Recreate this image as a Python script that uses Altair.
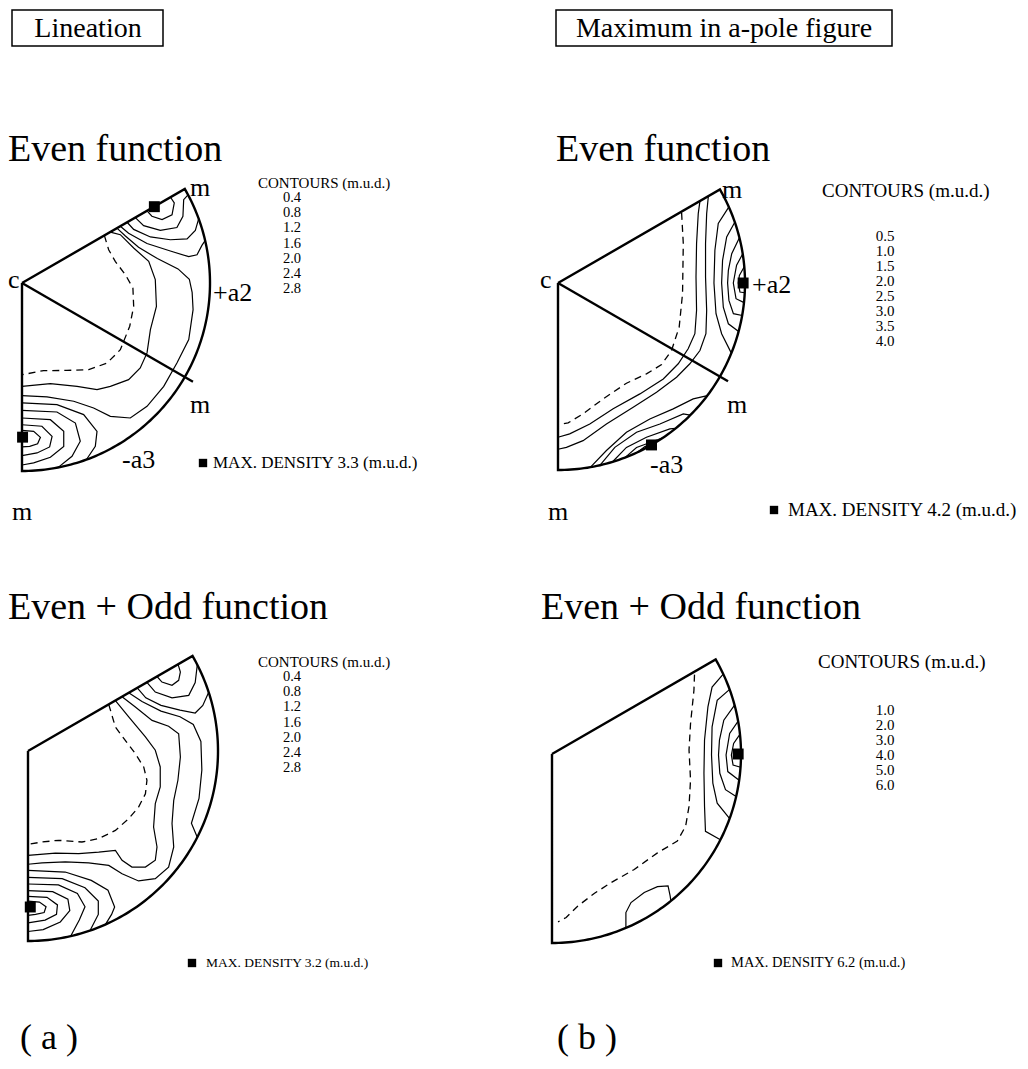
import altair as alt
import numpy as np
import pandas as pd

# ---------------- values ----------------
header_boxes = ["Lineation", "Maximum in a-pole figure"]
panel_titles = ["Even function", "Even function", "Even + Odd function", "Even + Odd function"]
column_tags = ["( a )", "( b )"]
levels_a_even = ["0.4", "0.8", "1.2", "1.6", "2.0", "2.4", "2.8"]
levels_b_even = ["0.5", "1.0", "1.5", "2.0", "2.5", "3.0", "3.5", "4.0"]
levels_a_odd = ["0.4", "0.8", "1.2", "1.6", "2.0", "2.4", "2.8"]
levels_b_odd = ["1.0", "2.0", "3.0", "4.0", "5.0", "6.0"]
max_density = ["3.3", "4.2", "3.2", "6.2"]

# contour lines in projection units (c = origin, primitive circle radius = 1)
a_even_dashed = [
    [(0.438, 0.253), (0.461, 0.177), (0.496, 0.115), (0.550, 0.044), (0.590, -0.027), (0.594, -0.124),
     (0.573, -0.230), (0.523, -0.355), (0.452, -0.426), (0.355, -0.461), (0.239, -0.465), (0.115, -0.466),
     (0.0, -0.488)],
]
a_even_solid = [
    [(0.47, 0.271), (0.523, 0.257), (0.594, 0.186), (0.674, 0.115), (0.709, 0.018), (0.715, -0.124),
     (0.683, -0.248), (0.665, -0.372), (0.629, -0.452), (0.567, -0.514), (0.470, -0.550), (0.399, -0.567),
     (0.293, -0.550), (0.151, -0.535), (0.0, -0.550)],
    [(0.505, 0.292), (0.55, 0.25), (0.62, 0.19), (0.72, 0.13), (0.83, 0.075), (0.89, 0.02), (0.905, -0.05),
     (0.91, -0.142), (0.887, -0.301), (0.824, -0.426), (0.754, -0.55), (0.665, -0.656), (0.576, -0.718),
     (0.47, -0.709), (0.381, -0.665), (0.275, -0.629), (0.133, -0.606), (0.0, -0.599)],
    [(0.523, 0.302), (0.567, 0.265), (0.665, 0.21), (0.789, 0.17), (0.887, 0.14), (0.931, 0.15),
     (0.957, 0.2), (0.974, 0.225)],
    [(0.559, 0.323), (0.594, 0.285), (0.683, 0.245), (0.789, 0.23), (0.878, 0.235), (0.922, 0.28),
     (0.940, 0.342)],
    [(0.603, 0.348), (0.647, 0.305), (0.736, 0.28), (0.824, 0.295), (0.856, 0.355), (0.86, 0.443),
     (0.883, 0.469)],
    [(0.665, 0.384), (0.691, 0.355), (0.745, 0.337), (0.798, 0.363), (0.810, 0.426), (0.79, 0.456)],
    [(0.0, -0.638), (0.186, -0.647), (0.328, -0.70), (0.399, -0.789), (0.39, -0.869), (0.342, -0.940)],
    [(0.0, -0.677), (0.186, -0.686), (0.284, -0.745), (0.31, -0.842), (0.266, -0.922), (0.191, -0.982)],
    [(0.0, -0.718), (0.151, -0.727), (0.222, -0.789), (0.222, -0.869), (0.151, -0.927), (0.062, -0.957),
     (0.0, -0.968)],
    [(0.0, -0.754), (0.106, -0.762), (0.16, -0.816), (0.147, -0.872), (0.08, -0.904), (0.0, -0.918)],
    [(0.0, -0.784), (0.062, -0.789), (0.098, -0.821), (0.083, -0.855), (0.041, -0.869), (0.0, -0.872)],
]
a_even_max = [(0.704, 0.406), (0.003, -0.82)]

b_even_dashed = [
    [(0.661, 0.375), (0.670, 0.211), (0.666, -0.057), (0.648, -0.236), (0.607, -0.361), (0.554, -0.436),
     (0.473, -0.486), (0.366, -0.536), (0.241, -0.620), (0.134, -0.700), (0.054, -0.748), (0.0, -0.757)],
]
b_even_solid = [
    [(0.759, 0.438), (0.75, 0.371), (0.741, 0.211), (0.738, 0.032), (0.741, -0.146), (0.732, -0.271),
     (0.696, -0.352), (0.643, -0.432), (0.563, -0.513), (0.438, -0.593), (0.295, -0.673), (0.170, -0.754),
     (0.0625, -0.807), (0.0, -0.825)],
    [(0.804, 0.464), (0.795, 0.371), (0.789, 0.211), (0.789, 0.032), (0.795, -0.146), (0.791, -0.271),
     (0.759, -0.361), (0.705, -0.432), (0.634, -0.504), (0.527, -0.584), (0.402, -0.664), (0.259, -0.754),
     (0.134, -0.843), (0.045, -0.879), (0.0, -0.889)],
    [(0.914, 0.407), (0.857, 0.318), (0.839, 0.175), (0.834, 0.0), (0.845, -0.164), (0.875, -0.271),
     (0.927, -0.375)],
    [(0.946, 0.326), (0.902, 0.246), (0.880, 0.121), (0.875, 0.0), (0.884, -0.129), (0.911, -0.218),
     (0.966, -0.259)],
    [(0.970, 0.242), (0.929, 0.157), (0.911, 0.068), (0.907, 0.0), (0.914, -0.093), (0.938, -0.164),
     (0.985, -0.174)],
    [(0.988, 0.156), (0.955, 0.095), (0.9375, 0.0), (0.952, -0.084), (0.995, -0.105)],
    [(0.996, 0.087), (0.970, 0.041), (0.964, 0.0), (0.973, -0.048), (0.999, -0.052)],
    [(0.174, -0.985), (0.259, -0.896), (0.366, -0.798), (0.491, -0.727), (0.616, -0.673), (0.723, -0.620),
     (0.799, -0.602)],
    [(0.225, -0.974), (0.304, -0.879), (0.420, -0.798), (0.545, -0.754), (0.670, -0.700), (0.707, -0.707)],
    [(0.292, -0.956), (0.366, -0.879), (0.473, -0.825), (0.598, -0.780), (0.629, -0.777)],
    [(0.358, -0.934), (0.42, -0.88), (0.50, -0.85), (0.56, -0.828)],
    [(0.423, -0.906), (0.465, -0.875), (0.52, -0.852)],
]
b_even_max = [(0.99, 0.0), (0.5, -0.866)]

a_odd_dashed = [
    [(0.425, 0.245), (0.460, 0.126), (0.512, 0.056), (0.565, -0.014), (0.609, -0.084), (0.626, -0.154),
     (0.618, -0.225), (0.582, -0.295), (0.530, -0.356), (0.460, -0.418), (0.372, -0.461), (0.284, -0.479),
     (0.161, -0.470), (0.074, -0.479), (0.0, -0.491)],
]
a_odd_solid = [
    [(0.46, 0.265), (0.530, 0.179), (0.618, 0.074), (0.670, 0.004), (0.696, -0.084), (0.696, -0.189),
     (0.670, -0.277), (0.661, -0.400), (0.679, -0.505), (0.670, -0.575), (0.618, -0.611), (0.547, -0.611),
     (0.495, -0.575), (0.460, -0.523), (0.372, -0.532), (0.267, -0.540), (0.144, -0.537), (0.0, -0.549)],
    [(0.495, 0.286), (0.565, 0.232), (0.653, 0.161), (0.740, 0.130), (0.793, 0.091), (0.802, -0.032),
     (0.789, -0.154), (0.767, -0.260), (0.758, -0.382), (0.767, -0.505), (0.740, -0.611), (0.670, -0.672),
     (0.582, -0.684), (0.495, -0.646), (0.425, -0.602), (0.319, -0.589), (0.196, -0.584), (0.074, -0.589),
     (0.0, -0.596)],
    [(0.53, 0.306), (0.6, 0.26), (0.7, 0.21), (0.8, 0.18), (0.87, 0.14), (0.91, 0.05), (0.915, -0.1),
     (0.9, -0.25), (0.86, -0.38), (0.891, -0.454)],
    [(0.575, 0.332), (0.62, 0.28), (0.70, 0.24), (0.80, 0.215), (0.88, 0.2), (0.92, 0.24), (0.951, 0.309)],
    [(0.626, 0.361), (0.67, 0.31), (0.758, 0.28), (0.846, 0.293), (0.88, 0.36), (0.891, 0.454)],
    [(0.679, 0.392), (0.705, 0.363), (0.758, 0.346), (0.793, 0.372), (0.802, 0.416), (0.79, 0.456)],
    [(0.0, -0.628), (0.196, -0.637), (0.333, -0.681), (0.421, -0.733), (0.456, -0.821), (0.44, -0.86),
     (0.407, -0.914)],
    [(0.0, -0.665), (0.18, -0.672), (0.30, -0.72), (0.37, -0.79), (0.37, -0.86), (0.326, -0.946)],
    [(0.0, -0.70), (0.16, -0.705), (0.26, -0.75), (0.30, -0.82), (0.27, -0.89), (0.225, -0.974)],
    [(0.0, -0.735), (0.13, -0.74), (0.21, -0.78), (0.22, -0.84), (0.17, -0.90), (0.08, -0.94), (0.0, -0.95)],
    [(0.0, -0.765), (0.10, -0.77), (0.155, -0.81), (0.15, -0.86), (0.09, -0.89), (0.0, -0.905)],
    [(0.0, -0.79), (0.06, -0.795), (0.095, -0.82), (0.085, -0.85), (0.04, -0.86), (0.0, -0.865)],
]
a_odd_max = [(0.012, -0.821)]

b_odd_dashed = [
    [(0.754, 0.42), (0.751, 0.337), (0.733, 0.161), (0.725, 0.021), (0.733, -0.137), (0.725, -0.277),
     (0.707, -0.382), (0.663, -0.461), (0.558, -0.523), (0.435, -0.611), (0.312, -0.681), (0.225, -0.737),
     (0.137, -0.804), (0.075, -0.865), (0.032, -0.888)],
]
b_odd_solid = [
    [(0.906, 0.423), (0.847, 0.354), (0.825, 0.249), (0.807, 0.074), (0.804, -0.102), (0.807, -0.277),
     (0.812, -0.409), (0.891, -0.454)],
    [(0.940, 0.342), (0.874, 0.284), (0.847, 0.144), (0.844, -0.005), (0.851, -0.154), (0.874, -0.260),
     (0.940, -0.342)],
    [(0.966, 0.259), (0.909, 0.179), (0.886, 0.074), (0.881, -0.005), (0.888, -0.102), (0.918, -0.189),
     (0.974, -0.225)],
    [(0.985, 0.174), (0.940, 0.109), (0.921, -0.005), (0.930, -0.093), (0.990, -0.139)],
    [(0.995, 0.105), (0.961, 0.056), (0.949, -0.005), (0.958, -0.058), (0.998, -0.070)],
    [(0.391, -0.921), (0.391, -0.839), (0.418, -0.786), (0.488, -0.733), (0.558, -0.702), (0.614, -0.698),
     (0.625, -0.751), (0.629, -0.777)],
]
b_odd_max = [(0.985, 0.0)]

# ---------------- layout (page pixels) ----------------
GEOM = {  # centre c (x, y) and radius of the primitive circle
    "a_even": (22, 283, 188),
    "b_even": (558, 283, 187),
    "a_odd": (28, 751, 190),
    "b_odd": (552, 754, 189),
}
PANEL_DATA = {
    "a_even": (a_even_solid, a_even_dashed, a_even_max, True),
    "b_even": (b_even_solid, b_even_dashed, b_even_max, True),
    "a_odd": (a_odd_solid, a_odd_dashed, a_odd_max, False),
    "b_odd": (b_odd_solid, b_odd_dashed, b_odd_max, False),
}
FONT = "Liberation Serif"

line_rows, frame_rows, sq_rows = [], [], []
for p, (solid, dashed, mx, radial) in PANEL_DATA.items():
    cx, cy, R = GEOM[p]
    for kind, group in (("s", solid), ("d", dashed)):
        for k, ln in enumerate(group):
            for i, (u, v) in enumerate(ln):
                line_rows.append(dict(id=f"{p}-{kind}{k}", i=i, px=cx + u * R, py=cy - v * R, dashed=kind == "d"))
    pts = [(0.0, 0.0)] + [(np.cos(np.radians(t)), np.sin(np.radians(t))) for t in np.linspace(-90, 30, 121)] + [(0.0, 0.0)]
    for i, (u, v) in enumerate(pts):
        frame_rows.append(dict(id=f"{p}-frame", i=i, px=cx + u * R, py=cy - v * R))
    if radial:
        for i, (u, v) in enumerate([(0.0, 0.0), (np.cos(np.radians(-30)) * 1.05, np.sin(np.radians(-30)) * 1.05)]):
            frame_rows.append(dict(id=f"{p}-radial", i=i, px=cx + u * R, py=cy - v * R))
    for (u, v) in mx:
        sq_rows.append(dict(px=cx + u * R, py=cy - v * R, s=120))

lines_df = pd.DataFrame(line_rows)
frame_df = pd.DataFrame(frame_rows)

# legend squares
for (x, y) in [(203, 463), (774, 510), (192, 963), (718, 963)]:
    sq_rows.append(dict(px=x, py=y, s=70))
sq_df = pd.DataFrame(sq_rows)

left_txt = [
    (panel_titles[0], 8, 150, 38), (panel_titles[1], 556, 150, 38),
    (panel_titles[2], 8, 608, 38), (panel_titles[3], 541, 608, 38),
    (column_tags[0], 20, 1038, 36), (column_tags[1], 557, 1038, 36),
    ("c", 8, 280, 26), ("m", 190, 188, 26), ("+a2", 213, 293, 26), ("m", 190, 405, 26),
    ("-a3", 122, 460, 26), ("m", 12, 512, 26),
    ("c", 540, 280, 26), ("m", 722, 190, 26), ("+a2", 752, 285, 26), ("m", 727, 405, 26),
    ("-a3", 650, 465, 26), ("m", 548, 512, 26),
    ("CONTOURS (m.u.d.)", 258, 183, 15), ("CONTOURS (m.u.d.)", 822, 191, 19),
    ("CONTOURS (m.u.d.)", 258, 662, 15), ("CONTOURS (m.u.d.)", 818, 662, 19),
    (f"MAX. DENSITY {max_density[0]} (m.u.d.)", 213, 463, 17),
    (f"MAX. DENSITY {max_density[1]} (m.u.d.)", 788, 510, 19),
    (f"MAX. DENSITY {max_density[2]} (m.u.d.)", 206, 963, 13.5),
    (f"MAX. DENSITY {max_density[3]} (m.u.d.)", 731, 963, 14.5),
]
center_txt = [(header_boxes[0], 88, 29, 28), (header_boxes[1], 724, 29, 28)]
for k, t in enumerate(levels_a_even):
    center_txt.append((t, 292, 198 + 15.2 * k, 14.5))
for k, t in enumerate(levels_b_even):
    center_txt.append((t, 885, 236 + 15 * k, 15))
for k, t in enumerate(levels_a_odd):
    center_txt.append((t, 292, 677 + 15.2 * k, 14.5))
for k, t in enumerate(levels_b_odd):
    center_txt.append((t, 885, 710 + 15 * k, 15))

left_df = pd.DataFrame(left_txt, columns=["t", "px", "py", "fs"])
center_df = pd.DataFrame(center_txt, columns=["t", "px", "py", "fs"])
box_df = pd.DataFrame({"x": [12, 556], "x2": [163, 892], "y": [10, 10], "y2": [46, 46]})

XS = alt.Scale(domain=[8, 1020], nice=False, zero=False)
YS = alt.Scale(domain=[8, 1061], nice=False, zero=False, reverse=True)
X = alt.X("px:Q", scale=XS, axis=None)
Y = alt.Y("py:Q", scale=YS, axis=None)

frame = alt.Chart(frame_df).mark_line(color="black", strokeWidth=2.4, strokeJoin="miter").encode(
    x=X, y=Y, detail="id:N", order="i:Q")
solid = alt.Chart(lines_df[~lines_df.dashed]).mark_line(color="black", strokeWidth=1.2).encode(
    x=X, y=Y, detail="id:N", order="i:Q")
dash = alt.Chart(lines_df[lines_df.dashed]).mark_line(color="black", strokeWidth=1.3, strokeDash=[7, 5]).encode(
    x=X, y=Y, detail="id:N", order="i:Q")
squares = alt.Chart(sq_df).mark_square(color="black", opacity=1, filled=True).encode(
    x=X, y=Y, size=alt.Size("s:Q", scale=None, legend=None))
boxes = alt.Chart(box_df).mark_rect(fillOpacity=0, stroke="black", strokeWidth=1.5).encode(
    x=alt.X("x:Q", scale=XS, axis=None), x2="x2:Q",
    y=alt.Y("y:Q", scale=YS, axis=None), y2="y2:Q")
ltext = alt.Chart(left_df).mark_text(align="left", baseline="middle", font=FONT, color="black").encode(
    x=X, y=Y, text="t:N", size=alt.Size("fs:Q", scale=None, legend=None))
ctext = alt.Chart(center_df).mark_text(align="center", baseline="middle", font=FONT, color="black").encode(
    x=X, y=Y, text="t:N", size=alt.Size("fs:Q", scale=None, legend=None))

chart = alt.layer(boxes, solid, dash, frame, squares, ltext, ctext).properties(
    width=1012, height=1053, padding=0, autosize=alt.AutoSizeParams(type="none")
).configure_view(stroke=None).resolve_scale(size="independent")

chart.save("out.html", embed_options={"renderer": "svg", "actions": False})
